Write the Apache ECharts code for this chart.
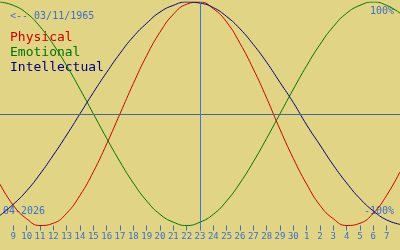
<!DOCTYPE html>
<html>
<head>
<meta charset="utf-8">
<script src="https://cdn.jsdelivr.net/npm/echarts@6/dist/echarts.min.js"></script>
<style>
html,body{margin:0;padding:0;background:#e1d485;}
#c{width:400px;height:250px;}
</style>
</head>
<body>
<div id="c"></div>
<script>
// Days of April 2026 (values > 30 run into May)
const days = [8,9,10,11,12,13,14,15,16,17,18,19,20,21,22,23,24,25,26,27,28,29,30,31,32,33,34,35,36,37,38];
const physical = [-0.63,-0.82,-0.94,-1.00,-0.98,-0.89,-0.73,-0.52,-0.27,0.00,0.27,0.52,0.73,0.89,0.98,1.00,0.94,0.82,0.63,0.40,0.14,-0.14,-0.40,-0.63,-0.82,-0.94,-1.00,-0.98,-0.89,-0.73,-0.52];
const emotional = [1.00,0.97,0.90,0.78,0.62,0.43,0.22,0.00,-0.22,-0.43,-0.62,-0.78,-0.90,-0.97,-1.00,-0.97,-0.90,-0.78,-0.62,-0.43,-0.22,0.00,0.22,0.43,0.62,0.78,0.90,0.97,1.00,0.97,0.90];
const intellectual = [-0.91,-0.81,-0.69,-0.54,-0.37,-0.19,0.00,0.19,0.37,0.54,0.69,0.81,0.91,0.97,1.00,0.99,0.95,0.87,0.76,0.62,0.46,0.28,0.10,-0.10,-0.28,-0.46,-0.62,-0.76,-0.87,-0.95,-0.99];
const tickDays = [9,10,11,12,13,14,15,16,17,18,19,20,21,22,23,24,25,26,27,28,29,30,31,32,33,34,35,36,37];
const tickLabels = ['9','10','11','12','13','14','15','16','17','18','19','20','21','22','23','24','25','26','27','28','29','30','1','2','3','4','5','6','7'];
const today = 23;
const seriesNames = ['Physical','Emotional','Intellectual'];
const birthLabel = '<-- 03/11/1965';
const monthLabel = '04-2026';
const topLabel = '100%';
const bottomLabel = '-100%';

const mono = '"DejaVu Sans Mono", "Liberation Mono", monospace';
const blue = '#3b6fc6';
const colors = ['#cc0000','#007400','#00007c'];

const chart = echarts.init(document.getElementById('c'), null, {renderer:'canvas'});
const mk = arr => days.map((d,i)=>[d, arr[i]]);

chart.setOption({
  animation:false,
  backgroundColor:'#e1d485',
  grid:{left:0,right:0,top:2,bottom:24.5,containLabel:false},
  xAxis:{
    type:'value', min:8, max:38, interval:1, position:'bottom',
    axisLine:{show:false, onZero:false},
    splitLine:{show:false},
    axisTick:{show:true, length:5, lineStyle:{color:blue,width:1}, customValues:tickDays},
    axisLabel:{show:true, color:blue, fontFamily:mono, fontSize:9, margin:7,
      customValues:tickDays,
      formatter:(v)=>{const i=tickDays.indexOf(v);return i>=0?tickLabels[i]:'';}}
  },
  yAxis:{
    type:'value', min:-1, max:1,
    axisLine:{show:false}, axisTick:{show:false}, axisLabel:{show:false}, splitLine:{show:false}
  },
  graphic:[
    {type:'text', left:10, top:11, z:1, style:{text:birthLabel, fill:blue, font:'10px '+mono}},
    {type:'text', right:6, top:6.5, z:1, style:{text:topLabel, fill:blue, font:'10px '+mono}},
    {type:'text', right:6, top:206.5, z:1, style:{text:bottomLabel, fill:blue, font:'10px '+mono}},
    {type:'text', left:3, top:206.5, z:1, style:{text:monthLabel, fill:blue, font:'10px '+mono}},
    {type:'text', left:10, top:31.5, z:1, style:{text:seriesNames[0], fill:colors[0], font:'13px '+mono}},
    {type:'text', left:10, top:46.5, z:1, style:{text:seriesNames[1], fill:colors[1], font:'13px '+mono}},
    {type:'text', left:10, top:61.5, z:1, style:{text:seriesNames[2], fill:colors[2], font:'13px '+mono}}
  ],
  series:[
    {name:seriesNames[0], type:'line', data:mk(physical), smooth:0.5, showSymbol:false, z:3,
      lineStyle:{color:colors[0], width:1},
      markLine:{silent:true, symbol:'none', label:{show:false},
        data:[{yAxis:0, lineStyle:{color:'#4a6690', width:1, type:'solid'}},
              {xAxis:today, lineStyle:{color:'#3a78d2', width:1, type:'solid'}}]}},
    {name:seriesNames[1], type:'line', data:mk(emotional), smooth:0.5, showSymbol:false, z:3,
      lineStyle:{color:colors[1], width:1}},
    {name:seriesNames[2], type:'line', data:mk(intellectual), smooth:0.5, showSymbol:false, z:3,
      lineStyle:{color:colors[2], width:1}}
  ]
});
</script>
</body>
</html>
